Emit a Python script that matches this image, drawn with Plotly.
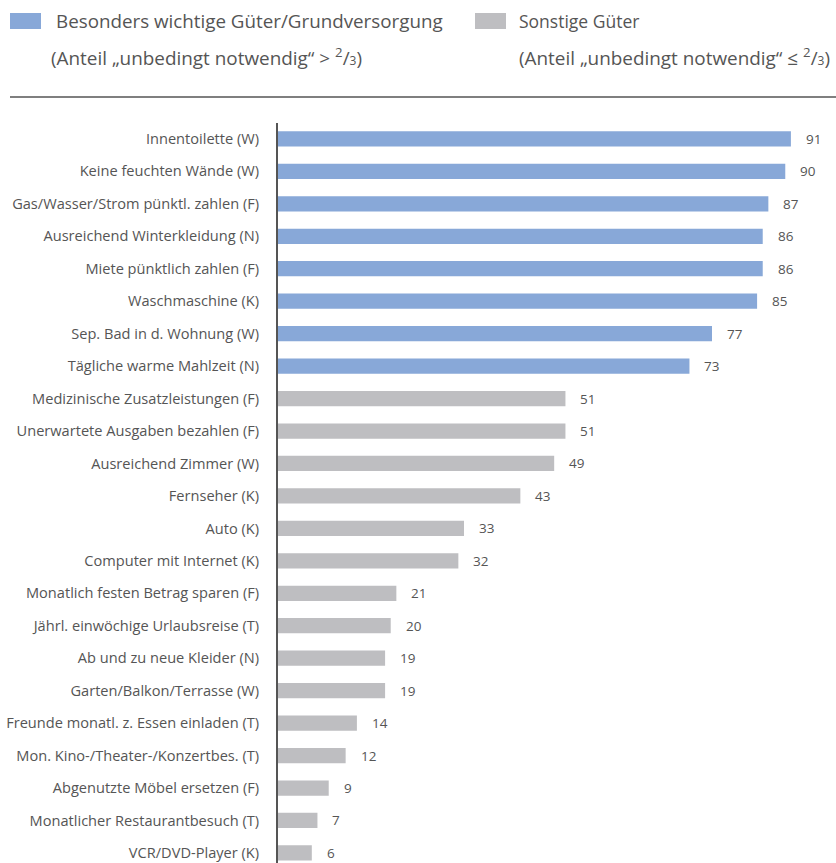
import plotly.graph_objects as go

categories = [
    "Innentoilette (W)", "Keine feuchten Wände (W)", "Gas/Wasser/Strom pünktl. zahlen (F)",
    "Ausreichend Winterkleidung (N)", "Miete pünktlich zahlen (F)", "Waschmaschine (K)",
    "Sep. Bad in d. Wohnung (W)", "Tägliche warme Mahlzeit (N)", "Medizinische Zusatzleistungen (F)",
    "Unerwartete Ausgaben bezahlen (F)", "Ausreichend Zimmer (W)", "Fernseher (K)", "Auto (K)",
    "Computer mit Internet (K)", "Monatlich festen Betrag sparen (F)", "Jährl. einwöchige Urlaubsreise (T)",
    "Ab und zu neue Kleider (N)", "Garten/Balkon/Terrasse (W)", "Freunde monatl. z. Essen einladen (T)",
    "Mon. Kino-/Theater-/Konzertbes. (T)", "Abgenutzte Möbel ersetzen (F)",
    "Monatlicher Restaurantbesuch (T)", "VCR/DVD-Player (K)",
]
values = [91, 90, 87, 86, 86, 85, 77, 73, 51, 51, 49, 43, 33, 32, 21, 20, 19, 19, 14, 12, 9, 7, 6]
groups = ["basic"] * 8 + ["other"] * 15

BLUE = "#88a8d8"
GRAY = "#bebec1"
TXT = "#555555"
FONT = "Open Sans"

W, H = 836, 863
L, T = 278, 123
PW, PH = W - L, H - T

colors = [BLUE if g == "basic" else GRAY for g in groups]

fig = go.Figure()
fig.add_trace(go.Bar(
    x=values, y=categories, orientation="h",
    marker=dict(color=colors, line=dict(width=0)),
    hoverinfo="x+y", showlegend=False,
))

for c, v in zip(categories, values):
    fig.add_annotation(x=v, y=c, xref="x", yref="y", text=str(v), showarrow=False,
                       xanchor="left", xshift=13, font=dict(family=FONT, size=13.5, color=TXT))


def fx(x):
    return (x - L) / PW


def fy(y):
    return (H - y) / PH


fig.update_layout(
    width=W, height=H,
    margin=dict(l=L, r=0, t=T, b=0),
    paper_bgcolor="white", plot_bgcolor="white",
    bargap=0.53,
    font=dict(family=FONT, size=13, color=TXT),
    xaxis=dict(range=[0, 99], visible=False, fixedrange=True),
    yaxis=dict(type="category", range=[22.31, -0.49], autorange=False,
               showline=True, linecolor="#555555", linewidth=2,
               ticks="", ticklabelstandoff=14, showgrid=False,
               tickfont=dict(family=FONT, size=14.6, color=TXT)),
    shapes=[
        dict(type="rect", xref="paper", yref="paper",
             x0=fx(10), x1=fx(41), y0=fy(29), y1=fy(13),
             fillcolor=BLUE, line=dict(width=0)),
        dict(type="rect", xref="paper", yref="paper",
             x0=fx(475), x1=fx(506), y0=fy(29), y1=fy(13),
             fillcolor=GRAY, line=dict(width=0)),
        dict(type="line", xref="paper", yref="paper",
             x0=fx(10), x1=1, y0=fy(97), y1=fy(97),
             line=dict(color="#555555", width=1.5)),
    ],
)


def ann(x, y, text, size=17):
    fig.add_annotation(xref="paper", yref="paper", x=fx(x), y=fy(y),
                       text=text, showarrow=False, xanchor="left", yanchor="middle",
                       font=dict(family=FONT, size=size, color=TXT))


frac = "<sup>2</sup>/<span style='font-size:12px'>3</span>"
ann(54, 21, "Besonders wichtige Güter/Grundversorgung", 18.8)
ann(49, 57, "(Anteil „unbedingt notwendig“ > " + frac + ")", 18.9)
ann(517, 21, "Sonstige Güter", 17.5)
ann(517, 57, "(Anteil „unbedingt notwendig“ ≤ " + frac + ")", 18.9)

fig.write_html("out.html")
